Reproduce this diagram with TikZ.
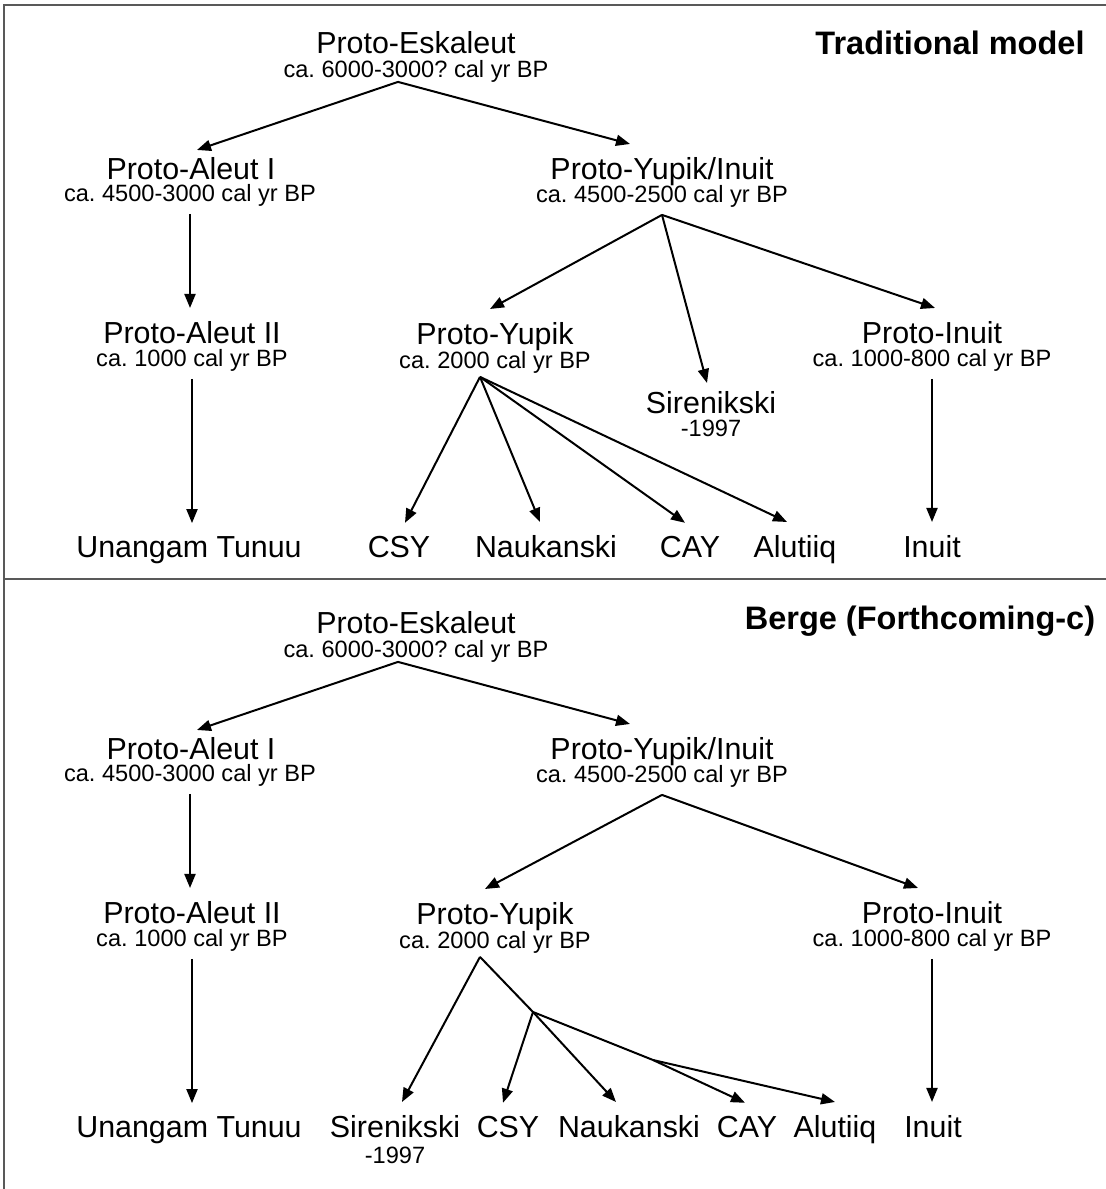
\documentclass[tikz,border=0pt]{standalone}
\usepackage{fontspec}
\setmainfont{Liberation Sans}
\usetikzlibrary{arrows.meta}
\frenchspacing

\tikzset{
  lang/.style={font=\fontsize{15.2}{18}\selectfont, inner sep=0pt, outer sep=6.5pt, anchor=base},
  date/.style={font=\fontsize{11.8}{14}\selectfont, inner sep=0pt, outer sep=4pt, anchor=base},
  title/.style={font=\fontsize{16.25}{19}\selectfont\bfseries, inner sep=0pt, anchor=base},
  arr/.style={-{Triangle[length=7pt,width=5.5pt]}, line width=1pt},
  frame/.style={line width=1.4pt, black!65},
}

\begin{document}
\begin{tikzpicture}[x=0.5pt,y=-0.5pt]
    \useasboundingbox (0,0) rectangle (1106,1189);

    \draw[frame] (4,1189) -- (4,5) -- (1106,5);
    \draw[frame] (4,579) -- (1106,579);

    % traditional model
    \node[title] (t1) at (950,54) {Traditional model};

    \node[lang] (pe) at (416,53) {Proto-Eskaleut};
    \node[date,outer sep=0pt] (pe-d) at (416,77) {ca. 6000-3000? cal yr BP};
    \node[lang,outer sep=3.5pt] (pa1) at (191,179) {Proto-Aleut I};
    \node[date] (pa1-d) at (190,201) {ca. 4500-3000 cal yr BP};
    \node[lang] (pyi) at (662,179) {Proto-Yupik/Inuit};
    \node[date] (pyi-d) at (662,202) {ca. 4500-2500 cal yr BP};
    \node[lang] (pa2) at (192,343) {Proto-Aleut II};
    \node[date] (pa2-d) at (192,366) {ca. 1000 cal yr BP};
    \node[lang] (py) at (495,344) {Proto-Yupik};
    \node[date,outer sep=2pt] (py-d) at (495,368) {ca. 2000 cal yr BP};
    \node[lang,outer sep=4pt] (sir) at (711,413) {Sirenikski};
    \node[date] (sir-d) at (711,436) {-1997};
    \node[lang] (pi) at (932,343) {Proto-Inuit};
    \node[date] (pi-d) at (932,366) {ca. 1000-800 cal yr BP};

    \node[lang] (ut) at (189,557) {Unangam Tunuu};
    \node[lang] (csy) at (399,557) {CSY};
    \node[lang] (nau) at (546,557) {Naukanski};
    \node[lang] (cay) at (690,557) {CAY};
    \node[lang] (alu) at (795,557) {Alutiiq};
    \node[lang] (inu) at (932,557) {Inuit};

    \draw[arr] ([xshift=-9pt]pe-d.south) -- ([xshift=3pt]pa1.north);
    \draw[arr] ([xshift=-9pt]pe-d.south) -- ([xshift=-16pt]pyi.north);
    \draw[arr] (pa1-d.south) -- (pa1-d.south |- pa2.north);
    \draw[arr] (pa2-d.south) -- (pa2-d.south |- ut.north);
    \draw[arr] (pyi-d.south) -- ([xshift=-2.5pt]py.north);
    \draw[arr] (pyi-d.south) -- ([xshift=-2pt]sir.north);
    \draw[arr] (pyi-d.south) -- ([xshift=1.5pt]pi.north);
    \draw[arr] (pi-d.south) -- (pi-d.south |- inu.north);
    \draw[arr] ([xshift=-7.5pt]py-d.south) -- ([xshift=3pt]csy.north);
    \draw[arr] ([xshift=-7.5pt]py-d.south) -- ([xshift=-3pt]nau.north);
    \draw[arr] ([xshift=-7.5pt]py-d.south) -- ([xshift=-2.5pt]cay.north);
    \draw[arr] ([xshift=-7.5pt]py-d.south) -- ([xshift=-4pt]alu.north);

    % Berge (Forthcoming-c)
    \begin{scope}[shift={(0,580)}]
    \node[title] (t2) at (920,49) {Berge (Forthcoming-c)};

    \node[lang] (bpe) at (416,53) {Proto-Eskaleut};
    \node[date,outer sep=0pt] (bpe-d) at (416,77) {ca. 6000-3000? cal yr BP};
    \node[lang,outer sep=3.5pt] (bpa1) at (191,179) {Proto-Aleut I};
    \node[date] (bpa1-d) at (190,201) {ca. 4500-3000 cal yr BP};
    \node[lang] (bpyi) at (662,179) {Proto-Yupik/Inuit};
    \node[date] (bpyi-d) at (662,202) {ca. 4500-2500 cal yr BP};
    \node[lang] (bpa2) at (192,343) {Proto-Aleut II};
    \node[date] (bpa2-d) at (192,366) {ca. 1000 cal yr BP};
    \node[lang] (bpy) at (495,344) {Proto-Yupik};
    \node[date,outer sep=2pt] (bpy-d) at (495,368) {ca. 2000 cal yr BP};
    \node[lang] (bpi) at (932,343) {Proto-Inuit};
    \node[date] (bpi-d) at (932,366) {ca. 1000-800 cal yr BP};

    \node[lang] (but) at (189,557) {Unangam Tunuu};
    \node[lang] (bsir) at (395,557) {Sirenikski};
    \node[date] (bsir-d) at (395,583) {-1997};
    \node[lang] (bcsy) at (508,557) {CSY};
    \node[lang] (bnau) at (629,557) {Naukanski};
    \node[lang] (bcay) at (747,557) {CAY};
    \node[lang] (balu) at (835,557) {Alutiiq};
    \node[lang] (binu) at (933,557) {Inuit};

    \coordinate (bj1) at (533,432);
    \coordinate (bj2) at (653,480);

    \draw[arr] ([xshift=-9pt]bpe-d.south) -- ([xshift=3pt]bpa1.north);
    \draw[arr] ([xshift=-9pt]bpe-d.south) -- ([xshift=-16pt]bpyi.north);
    \draw[arr] (bpa1-d.south) -- (bpa1-d.south |- bpa2.north);
    \draw[arr] (bpa2-d.south) -- (bpa2-d.south |- but.north);
    \draw[arr] (bpyi-d.south) -- ([xshift=-5pt]bpy.north);
    \draw[arr] (bpyi-d.south) -- ([xshift=-7pt]bpi.north);
    \draw[arr] (bpi-d.south) -- (bpi-d.south |- binu.north);
    \draw[arr] ([xshift=-7.5pt]bpy-d.south) -- ([xshift=3.5pt]bsir.north);
    \draw[line width=1pt] ([xshift=-7.5pt]bpy-d.south) -- (bj1);
    \draw[arr] (bj1) -- ([xshift=-2.5pt]bcsy.north);
    \draw[arr] (bj1) -- ([xshift=-6.5pt]bnau.north);
    \draw[line width=1pt] (bj1) -- (bj2);
    \draw[arr] (bj2) -- ([xshift=-1pt]bcay.north);
    \draw[arr] (bj2) -- (balu.north);
    \end{scope}
\end{tikzpicture}
\end{document}
